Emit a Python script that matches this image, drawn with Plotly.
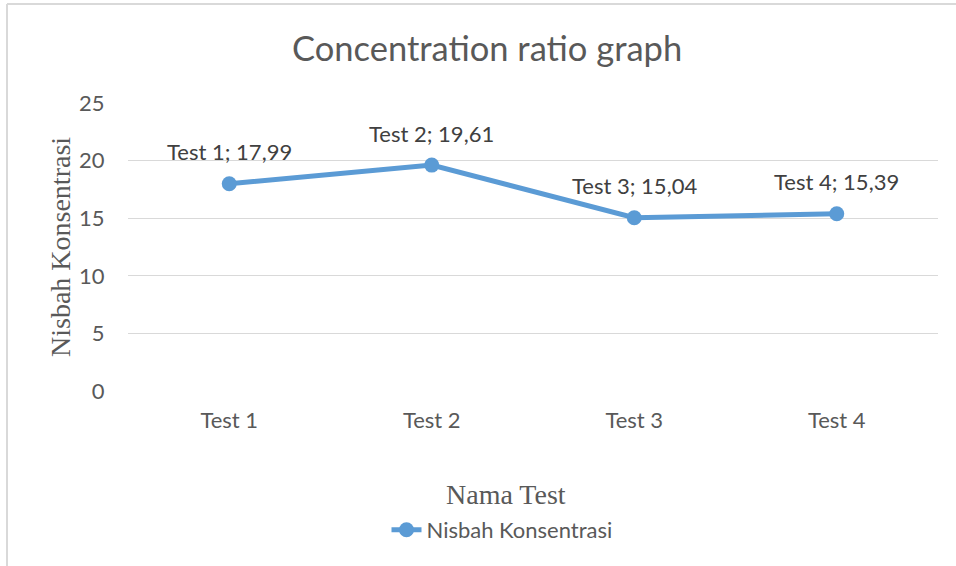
import plotly.graph_objects as go

categories = ["Test 1", "Test 2", "Test 3", "Test 4"]
values = [17.99, 19.61, 15.04, 15.39]
series_name = "Nisbah Konsentrasi"
y_ticks = [0, 5, 10, 15, 20, 25]

W, H = 956, 566
L, R, T, B = 128, 18, 103, 175
pw, ph = W - L - R, H - T - B

def px_x(p):
    return (p - L) / pw

def px_y(p):
    return (H - B - p) / ph

blue = "#5B9BD5"
gray = "#595959"
grid = "#D9D9D9"

fig = go.Figure()
fig.add_trace(go.Scatter(
    x=categories, y=values, mode="lines+markers", name=series_name,
    line=dict(color=blue, width=5),
    marker=dict(color=blue, size=15),
))

for c, v in zip(categories, values):
    fig.add_annotation(
        x=c, y=v, xref="x", yref="y",
        text=f"{c}; {v:.2f}".replace(".", ","),
        showarrow=False, yshift=32,
        font=dict(family="Lato", size=22, color="#404040"),
    )

fig.add_annotation(
    x=px_x(487), y=px_y(48), xref="paper", yref="paper",
    xanchor="center", yanchor="middle",
    text="Concentration ratio graph", showarrow=False,
    font=dict(family="Lato", size=34.5, color=gray),
)
fig.add_annotation(
    x=px_x(506), y=px_y(494), xref="paper", yref="paper",
    xanchor="center", yanchor="middle",
    text="Nama Test", showarrow=False,
    font=dict(family="Liberation Serif", size=28, color=gray),
)
fig.add_annotation(
    x=px_x(60), y=px_y(247), xref="paper", yref="paper",
    xanchor="center", yanchor="middle",
    text="Nisbah Konsentrasi", showarrow=False, textangle=-90,
    font=dict(family="Liberation Serif", size=28, color=gray),
)

# chart border
fig.add_shape(type="line", xref="paper", yref="paper",
              x0=px_x(7), x1=px_x(W + 10), y0=px_y(4), y1=px_y(4),
              line=dict(color=grid, width=2))
fig.add_shape(type="line", xref="paper", yref="paper",
              x0=px_x(7), x1=px_x(7), y0=px_y(4), y1=px_y(H + 10),
              line=dict(color=grid, width=2))

fig.update_layout(
    width=W, height=H,
    margin=dict(l=L, r=R, t=T, b=B),
    paper_bgcolor="white", plot_bgcolor="white",
    showlegend=True,
    legend=dict(orientation="h", x=px_x(502), y=px_y(530),
                xanchor="center", yanchor="middle",
                font=dict(family="Lato", size=22, color=gray)),
    xaxis=dict(range=[-0.5, 3.5], showgrid=False, zeroline=False,
               showline=False, ticks="outside", ticklen=10,
               tickcolor="rgba(0,0,0,0)",
               tickfont=dict(family="Lato", size=22, color=gray)),
    yaxis=dict(range=[0, 25], tickvals=y_ticks, showgrid=True,
               gridcolor=grid, gridwidth=1.3, zeroline=False,
               showline=False, ticks="outside", ticklen=18,
               tickcolor="rgba(0,0,0,0)",
               tickfont=dict(family="Lato", size=22, color=gray)),
)

fig.write_html("out.html", config={"displayModeBar": False},
               post_script="document.body.style.margin='0';")
